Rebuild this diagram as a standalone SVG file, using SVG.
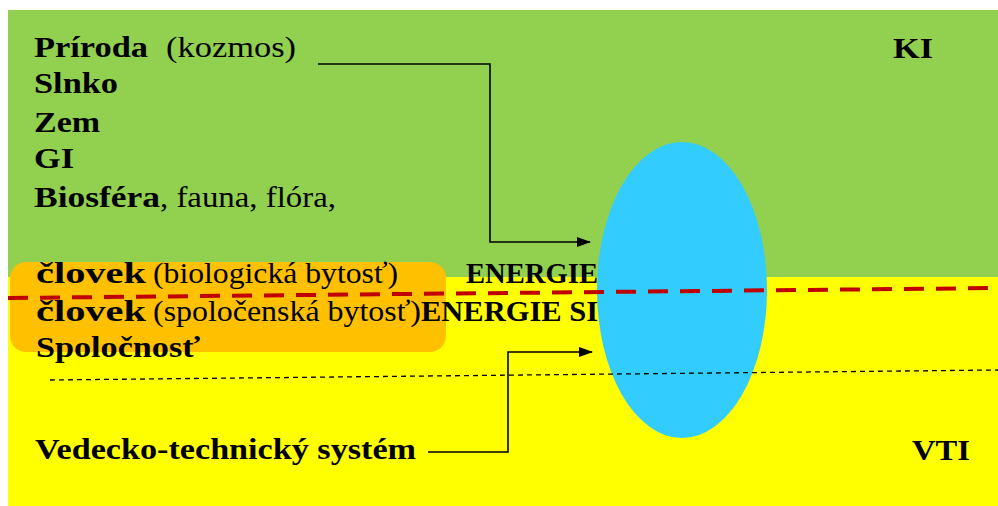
<svg xmlns="http://www.w3.org/2000/svg" width="998" height="506" viewBox="0 0 998 506">
<style>
text{font-family:"Liberation Serif","Times New Roman",serif;font-size:29px;fill:#000}
.b{font-weight:bold}
.c{stroke:#000;stroke-width:1.6;fill:none}
</style>
<defs>
<marker id="ah" markerWidth="14" markerHeight="10" refX="13" refY="5" orient="auto" markerUnits="userSpaceOnUse">
<path d="M0,0 L14,5 L0,10 Z" fill="#000"/>
</marker>
</defs>
<rect x="0" y="0" width="998" height="506" fill="#fff"/>
<g id="bg">
<rect x="8" y="10" width="990" height="267" fill="#92d050"/>
<rect x="8" y="277" width="990" height="229" fill="#ffff00"/>
</g>
<g id="orange">
<rect x="10" y="262" width="436" height="90" rx="16" fill="#ffc000"/>
</g>
<g id="ellipse">
<ellipse cx="682" cy="290" rx="85" ry="148" fill="#33ccff"/>
</g>
<g id="lines">
<line x1="8" y1="298" x2="998" y2="288" stroke="#c00000" stroke-width="4" stroke-dasharray="20,12"/>
<line x1="50" y1="380" x2="998" y2="370" stroke="#000" stroke-width="1.3" stroke-dasharray="5,4"/>
</g>
<g id="connectors">
<polyline class="c" points="318,64 490,64 490,242 590,242" marker-end="url(#ah)"/>
<polyline class="c" points="428,452 508,452 508,352 592,352" marker-end="url(#ah)"/>
</g>
<g id="texts">
<text class="b" x="34" y="57" textLength="114" lengthAdjust="spacingAndGlyphs">Príroda</text>
<text x="166" y="57" textLength="130" lengthAdjust="spacingAndGlyphs">(kozmos)</text>
<text class="b" x="34" y="93" textLength="84" lengthAdjust="spacingAndGlyphs">Slnko</text>
<text class="b" x="34" y="132" textLength="66" lengthAdjust="spacingAndGlyphs">Zem</text>
<text class="b" x="34" y="168" textLength="40" lengthAdjust="spacingAndGlyphs">GI</text>
<text class="b" x="34" y="207" textLength="126" lengthAdjust="spacingAndGlyphs">Biosféra</text>
<text x="160" y="207" textLength="176" lengthAdjust="spacingAndGlyphs">, fauna, flóra,</text>
<text class="b" x="36" y="283" textLength="110" lengthAdjust="spacingAndGlyphs">človek</text>
<text x="153" y="283" textLength="245" lengthAdjust="spacingAndGlyphs">(biologická bytosť)</text>
<text class="b" x="466" y="283" font-size="26" textLength="132" lengthAdjust="spacingAndGlyphs">ENERGIE</text>
<text class="b" x="36" y="321" textLength="110" lengthAdjust="spacingAndGlyphs">človek</text>
<text x="153" y="321" textLength="268" lengthAdjust="spacingAndGlyphs">(spoločenská bytosť)</text>
<text class="b" x="421" y="321" textLength="177" lengthAdjust="spacingAndGlyphs">ENERGIE SI</text>
<text class="b" x="36" y="357" textLength="164" lengthAdjust="spacingAndGlyphs">Spoločnosť</text>
<text class="b" x="893" y="58" textLength="40" lengthAdjust="spacingAndGlyphs">KI</text>
<text class="b" x="35" y="459" textLength="381" lengthAdjust="spacingAndGlyphs">Vedecko-technický systém</text>
<text class="b" x="912" y="460" textLength="58" lengthAdjust="spacingAndGlyphs">VTI</text>
</g>
</svg>
